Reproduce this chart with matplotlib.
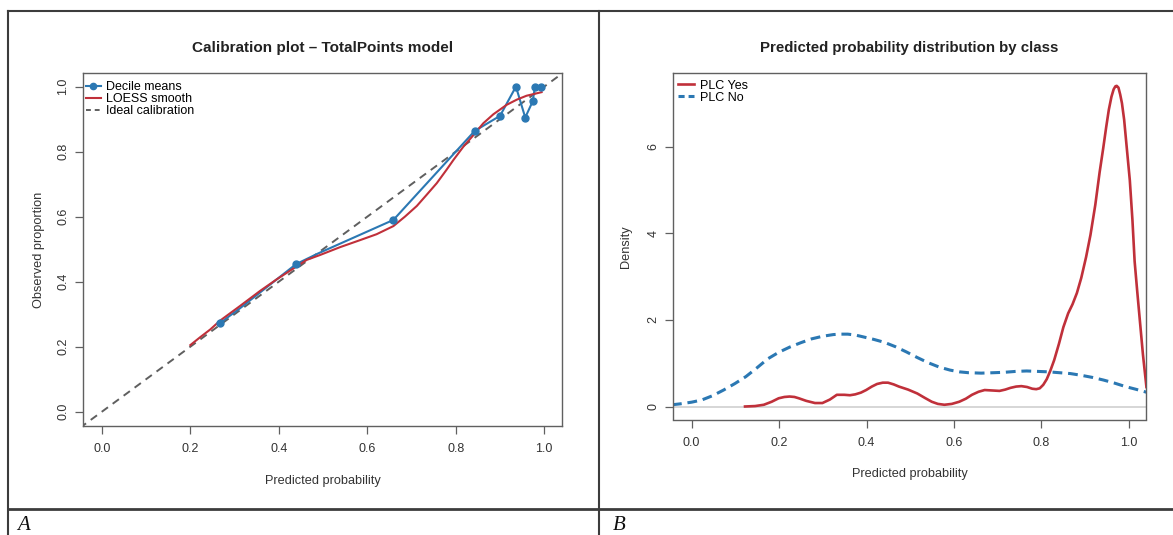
import matplotlib
matplotlib.use("Agg")
import matplotlib.pyplot as plt
from matplotlib.lines import Line2D

plt.rcParams['font.family'] = ['Liberation Sans', 'DejaVu Sans']

# ---------------- data ----------------
# Panel A: calibration
decile_pred = [0.267, 0.288, 0.312, 0.439, 0.489, 0.659, 0.843, 0.900, 0.936, 0.957, 0.974, 0.979, 0.992]
decile_obs = [0.272, 0.294, 0.318, 0.454, 0.487, 0.590, 0.864, 0.910, 1.000, 0.905, 0.955, 1.000, 1.000]
decile_marked = [True, False, False, True, False, True, True, True, True, True, True, True, True]

loess_x = [0.200, 0.222, 0.245, 0.267, 0.312, 0.358, 0.395, 0.439, 0.463, 0.493, 0.538, 0.584,
           0.621, 0.659, 0.685, 0.712, 0.734, 0.757, 0.779, 0.795, 0.817, 0.840, 0.862, 0.885,
           0.915, 0.938, 0.960, 0.994]
loess_y = [0.205, 0.229, 0.253, 0.280, 0.325, 0.372, 0.407, 0.446, 0.467, 0.482, 0.506, 0.528,
           0.546, 0.571, 0.600, 0.633, 0.667, 0.703, 0.744, 0.775, 0.815, 0.851, 0.887, 0.915,
           0.944, 0.960, 0.972, 0.983]

ideal = [-0.05, 1.05]

ticks01 = [0.0, 0.2, 0.4, 0.6, 0.8, 1.0]
tick_labels01 = ["0.0", "0.2", "0.4", "0.6", "0.8", "1.0"]

# Panel B: densities
yes_x = [0.122, 0.145, 0.165, 0.183, 0.199, 0.212, 0.224, 0.235, 0.245, 0.262, 0.282, 0.299,
         0.316, 0.332, 0.349, 0.362, 0.374, 0.387, 0.399, 0.412, 0.424, 0.437, 0.449, 0.462,
         0.474, 0.495, 0.516, 0.533, 0.549, 0.563, 0.578, 0.595, 0.612, 0.627, 0.641, 0.656,
         0.670, 0.687, 0.704, 0.717, 0.729, 0.742, 0.754, 0.767, 0.779, 0.788, 0.796, 0.804,
         0.812, 0.820, 0.829, 0.840, 0.850, 0.861, 0.871, 0.881, 0.891, 0.902, 0.912, 0.923,
         0.933, 0.941, 0.948, 0.954, 0.960, 0.965, 0.969, 0.972, 0.976, 0.980, 0.984, 0.989,
         0.994, 1.002, 1.008, 1.013, 1.019, 1.025, 1.032, 1.040]
yes_y = [0.00, 0.01, 0.04, 0.11, 0.19, 0.22, 0.23, 0.22, 0.19, 0.13, 0.08, 0.08,
         0.16, 0.27, 0.27, 0.26, 0.28, 0.32, 0.38, 0.46, 0.52, 0.55, 0.55, 0.51,
         0.46, 0.39, 0.30, 0.20, 0.11, 0.06, 0.04, 0.06, 0.11, 0.18, 0.27, 0.34,
         0.38, 0.37, 0.36, 0.39, 0.43, 0.46, 0.47, 0.45, 0.41, 0.40, 0.42, 0.50,
         0.63, 0.82, 1.07, 1.45, 1.83, 2.15, 2.36, 2.62, 2.97, 3.45, 3.96, 4.65,
         5.41, 5.95, 6.45, 6.85, 7.15, 7.32, 7.39, 7.40, 7.36, 7.20, 7.00, 6.62,
         6.08, 5.22, 4.30, 3.35, 2.65, 1.98, 1.20, 0.45]

no_x = [-0.045, -0.027, 0.000, 0.023, 0.048, 0.073, 0.099, 0.124, 0.149, 0.174, 0.199, 0.224,
        0.249, 0.274, 0.299, 0.324, 0.341, 0.357, 0.374, 0.391, 0.416, 0.441, 0.466, 0.491,
        0.516, 0.541, 0.566, 0.591, 0.612, 0.633, 0.662, 0.691, 0.716, 0.741, 0.766, 0.791,
        0.816, 0.841, 0.866, 0.891, 0.917, 0.942, 0.967, 0.992, 1.015, 1.040]
no_y = [0.04, 0.06, 0.10, 0.15, 0.25, 0.38, 0.53, 0.69, 0.89, 1.10, 1.25, 1.37,
        1.47, 1.56, 1.62, 1.66, 1.67, 1.67, 1.65, 1.61, 1.55, 1.48, 1.38, 1.26,
        1.13, 1.01, 0.91, 0.84, 0.80, 0.78, 0.77, 0.78, 0.79, 0.81, 0.82, 0.81,
        0.80, 0.78, 0.76, 0.72, 0.67, 0.61, 0.54, 0.46, 0.40, 0.33]

density_ticks = [0, 2, 4, 6]
density_tick_labels = ["0", "2", "4", "6"]

# ---------------- figure ----------------
W, H = 1173, 535
fig = plt.figure(figsize=(W / 100, H / 100), dpi=100)

def box(l, t, r, b):
    return [l / W, 1 - b / H, (r - l) / W, (b - t) / H]

BLUE = "#2b78b3"
RED = "#c0303a"
SPINE = "#606060"
TXT = "#333333"
FS = 9.0
LFS = 9.2

def style(ax):
    for s in ax.spines.values():
        s.set_color(SPINE)
        s.set_linewidth(1.0)
    ax.tick_params(direction='out', length=6, width=0.9, color=SPINE,
                   labelcolor=TXT, labelsize=FS, pad=6.5)
    ax.tick_params(axis='y', pad=4)
    for lab in ax.get_yticklabels():
        lab.set_rotation(90)
        lab.set_va('center')

# ---- Panel A ----
axA = fig.add_axes(box(83.3, 73.3, 561.5, 425.7))
axA.plot(ideal, ideal, color="#5f5f5f", lw=1.4, dashes=(4, 3), zorder=1)
axA.plot(decile_pred, decile_obs, color=BLUE, lw=1.5, zorder=2)
mx = [x for x, m in zip(decile_pred, decile_marked) if m]
my = [y for y, m in zip(decile_obs, decile_marked) if m]
axA.plot(mx, my, 'o', color=BLUE, ms=5, zorder=3)
axA.plot(loess_x, loess_y, color=RED, lw=1.5, zorder=2)
axA.set_xlim(-0.042, 1.039)
axA.set_ylim(-0.043, 1.041)
axA.set_xticks(ticks01, tick_labels01)
axA.set_yticks(ticks01, tick_labels01)
style(axA)
axA.set_title("Calibration plot \u2013 TotalPoints model", fontsize=11,
              fontweight='bold', color="#222222", pad=15)
axA.set_xlabel("Predicted probability", fontsize=LFS, color=TXT, labelpad=14)
axA.set_ylabel("Observed proportion", fontsize=LFS, color=TXT, labelpad=9)
handlesA = [Line2D([], [], color=BLUE, lw=1.5, marker='o', ms=4.5),
            Line2D([], [], color=RED, lw=1.5),
            Line2D([], [], color="#5f5f5f", lw=1.4, dashes=(2.5, 2))]
axA.legend(handlesA, ["Decile means", "LOESS smooth", "Ideal calibration"],
           loc='upper left', bbox_to_anchor=(0.005, 0.978), frameon=False,
           fontsize=FS, handlelength=1.2, handletextpad=0.45, labelspacing=0.0,
           borderaxespad=0.0, borderpad=0.0)

# ---- Panel B ----
axB = fig.add_axes(box(673.3, 73.3, 1146, 419.5))
axB.axhline(0, color="#cfcfcf", lw=1.2, zorder=0)
axB.plot(no_x, no_y, color=BLUE, lw=2.2, dashes=(3.2, 1.9), zorder=2)
axB.plot(yes_x, yes_y, color=RED, lw=1.9, zorder=3)
axB.set_xlim(-0.042, 1.039)
axB.set_ylim(-0.30, 7.69)
axB.set_xticks(ticks01, tick_labels01)
axB.set_yticks(density_ticks, density_tick_labels)
style(axB)
axB.set_title("Predicted probability distribution by class", fontsize=10.8,
              fontweight='bold', color="#222222", pad=15)
axB.set_xlabel("Predicted probability", fontsize=LFS, color=TXT, labelpad=14)
axB.set_ylabel("Density", fontsize=LFS, color=TXT, labelpad=11)
handlesB = [Line2D([], [], color=RED, lw=1.9),
            Line2D([], [], color=BLUE, lw=2.2, dashes=(2, 1.3))]
axB.legend(handlesB, ["PLC Yes", "PLC No"], loc='upper left',
           bbox_to_anchor=(0.01, 0.982), frameon=False,
           fontsize=FS, handlelength=1.3, handletextpad=0.45, labelspacing=0.0,
           borderaxespad=0.0, borderpad=0.0)

# ---- surrounding table frame ----
frame_col = "#3c3c3c"
def hline(y, x0, x1, lw=1.5):
    fig.add_artist(Line2D([x0 / W, x1 / W], [1 - y / H, 1 - y / H], color=frame_col, lw=lw))
def vline(x, y0, y1, lw=1.5):
    fig.add_artist(Line2D([x / W, x / W], [1 - y0 / H, 1 - y1 / H], color=frame_col, lw=lw))

hline(11, 7.5, 1173)
hline(508.5, 7.5, 1173, lw=2.0)
vline(7.5, 11, 535)
vline(599, 11, 535)

fig.text(17 / W, 1 - 525 / H, "A", fontsize=15, style='italic',
         family=['Liberation Serif', 'DejaVu Serif'], va='center', ha='left', color="#111111")
fig.text(613 / W, 1 - 525 / H, "B", fontsize=15, style='italic',
         family=['Liberation Serif', 'DejaVu Serif'], va='center', ha='left', color="#111111")

fig.savefig("out.png", dpi=100)
